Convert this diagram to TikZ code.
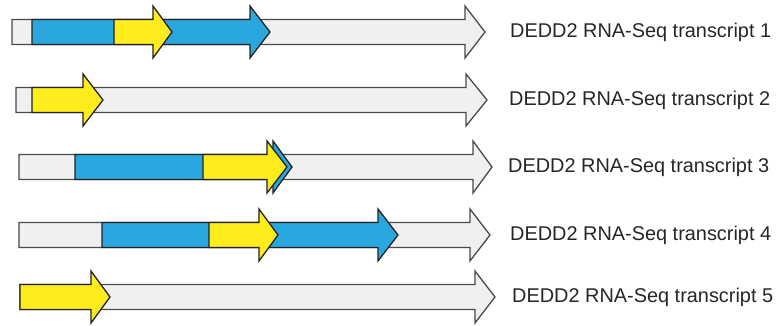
\documentclass[tikz,border=0pt]{standalone}
\usepackage{fontspec}
\setmainfont{Liberation Sans}
\definecolor{exonblue}{HTML}{29A8E0}
\definecolor{orfyellow}{HTML}{FFEC1C}
\definecolor{utrgray}{HTML}{F0F0F0}
\definecolor{edgegray}{HTML}{4A4A4A}
\definecolor{edgedark}{HTML}{222222}
% block arrow: #1 style, #2 start x, #3 head base x, #4 tip x, #5 centre y
\newcommand{\blockarrow}[5]{%
  \draw[#1] (#2,#5-12.5) -- (#3,#5-12.5) -- (#3,#5-26) -- (#4,#5)
    -- (#3,#5+26) -- (#3,#5+12.5) -- (#2,#5+12.5) -- cycle;}
\begin{document}
\begin{tikzpicture}[x=1pt,y=-1pt,
  transcript/.style={fill=utrgray,draw=edgegray,line width=1.3pt,line join=miter},
  bluepart/.style={fill=exonblue,draw=edgedark,line width=1.3pt,line join=miter},
  yellowpart/.style={fill=orfyellow,draw=edgedark,line width=1.3pt,line join=miter},
  lbl/.style={anchor=west,inner sep=0pt,text=black!85,font=\fontsize{19.9}{23}\selectfont}]
\useasboundingbox (0,0) rectangle (777,326);
% transcript 1
\blockarrow{transcript}{12}{465}{485}{32}
\blockarrow{bluepart}{32}{250}{270}{32}
\blockarrow{yellowpart}{114}{153}{172}{32}
\node[lbl] (t1) at (510,32) {DEDD2 RNA-Seq transcript 1};
% transcript 2
\blockarrow{transcript}{16}{466}{487}{100}
\blockarrow{yellowpart}{32}{83}{103}{100}
\node[lbl] (t2) at (509,100) {DEDD2 RNA-Seq transcript 2};
% transcript 3
\blockarrow{transcript}{19}{473}{492}{167}
\blockarrow{bluepart}{75}{273}{292}{167}
\blockarrow{yellowpart}{203}{267}{287}{167}
\node[lbl] (t3) at (508,167) {DEDD2 RNA-Seq transcript 3};
% transcript 4
\blockarrow{transcript}{19}{470}{490}{235}
\blockarrow{bluepart}{102}{378}{398}{235}
\blockarrow{yellowpart}{209}{259}{278}{235}
\node[lbl] (t4) at (510,235) {DEDD2 RNA-Seq transcript 4};
% transcript 5
\blockarrow{transcript}{20}{475}{495}{297}
\blockarrow{yellowpart}{20}{91}{110}{297}
\node[lbl] (t5) at (512,297) {DEDD2 RNA-Seq transcript 5};
\end{tikzpicture}
\end{document}
